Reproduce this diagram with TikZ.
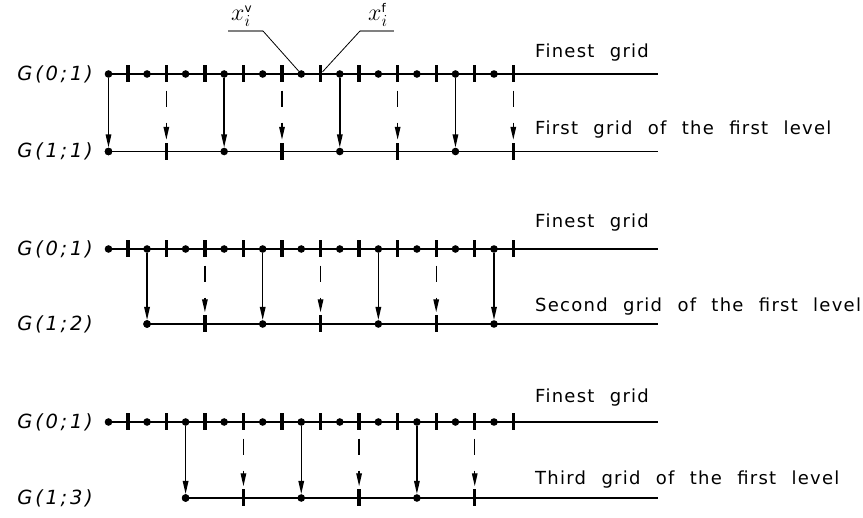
\documentclass[tikz,border=0pt]{standalone}
\usepackage{fix-cm}
\usepackage{fontspec}
\setsansfont{DejaVu Sans}
\usetikzlibrary{arrows.meta}
\newfontfamily\cadfont{DejaVu Sans}[LetterSpace=7,WordSpace=2.2]
\newfontfamily\caditfont{DejaVu Sans Oblique}[LetterSpace=14]
\begin{document}
\begin{tikzpicture}[x=1pt,y=-1pt,
  gline/.style={line width=1.5pt},
  vdot/.style={circle,fill=black,inner sep=0pt,minimum size=7.6pt},
  facebar/.style={rectangle,fill=black,inner sep=0pt,minimum width=3.4pt,minimum height=17pt},
  solidarrow/.style={line width=1.4pt,-{Triangle[length=13pt,width=5.5pt]}},
  dasharrow/.style={line width=1.4pt,-{Triangle[length=13pt,width=5.5pt]},dash pattern=on 16pt off 16pt,shorten <=8pt,shorten >=3pt},
  lbl/.style={font=\cadfont\fontsize{18}{20}\selectfont,anchor=base west,inner sep=0pt},
  glbl/.style={font=\caditfont\fontsize{19.5}{22}\selectfont,anchor=east,inner sep=0pt},
  mlbl/.style={font=\fontsize{24}{28}\selectfont,anchor=base west,inner sep=0pt},
  leader/.style={line width=0.8pt},
  uline/.style={line width=1.5pt,gray}]
\useasboundingbox (0,0) rectangle (863,518);

\foreach \r/\yt/\yb/\s/\lab/\txt/\ft/\fb in {
  1/74/151.5/0/{G(1;1)}/{First grid of the first level}/58/135,
  2/249/324/1/{G(1;2)}/{Second grid of the first level}/228/312,
  3/422/498/2/{G(1;3)}/{Third grid of the first level}/403/485}{
  \coordinate (tend\r) at (658,\yt);
  \coordinate (bend\r) at (658,\yb);
  \foreach \k in {0,...,10}{
    \node[vdot] (d\r-\k) at ({108.5+38.55*\k},\yt) {};
    \node[facebar] (f\r-\k) at ({127.8+38.55*\k},\yt) {};
  }
  \draw[gline] (d\r-0.center) -- (tend\r);
  \node[vdot] (D\r-\s) at ({108.5+38.55*\s},\yb) {};
  \draw[gline] (D\r-\s.center) -- (bend\r);
  \foreach \j in {0,...,3}{
    \pgfmathtruncatemacro\kd{\s+3*\j}
    \pgfmathtruncatemacro\kf{\s+1+3*\j}
    \ifnum\kd<11
      \node[vdot] (D\r-\kd) at ({108.5+38.55*\kd},\yb) {};
      \draw[solidarrow] (d\r-\kd) -- (D\r-\kd);
    \fi
    \ifnum\kf<11
      \node[facebar] (F\r-\kf) at ({127.8+38.55*\kf},\yb) {};
      \draw[dasharrow] (f\r-\kf) -- (F\r-\kf);
    \fi
  }
  \node[glbl] (gt\r) at (93,\yt) {G(0;1)};
  \node[glbl] (gb\r) at (93,\yb) {\lab};
  \node[lbl] (fin\r) at (535,\ft) {Finest grid};
  \node[lbl] (lev\r) at (535,\fb) {\txt};
}

\node[mlbl] (xv) at (231,21) {$x_i^{\scriptscriptstyle\mathsf{v}}$};
\coordinate (xvL) at (228,31);
\coordinate (xvR) at (263,31);
\draw[uline] (xvL) -- (xvR);
\draw[leader] (xvR) -- (d1-5);
\node[mlbl] (xf) at (368,21) {$x_i^{\scriptscriptstyle\mathsf{f}}$};
\coordinate (xfL) at (360,31);
\coordinate (xfR) at (394,31);
\draw[uline] (xfL) -- (xfR);
\draw[leader] (xfL) -- (f1-5);
\end{tikzpicture}
\end{document}
